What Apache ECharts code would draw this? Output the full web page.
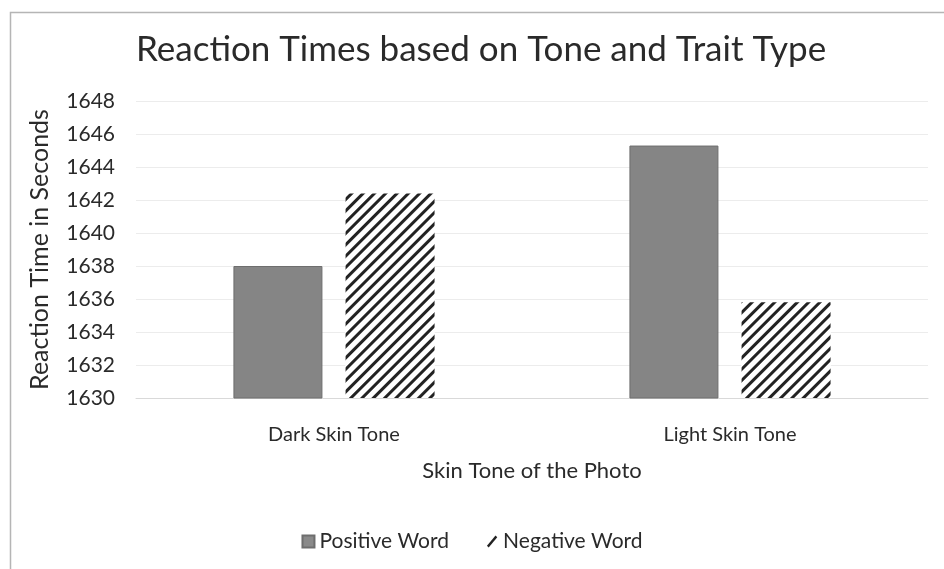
<!DOCTYPE html>
<html><head><meta charset="utf-8">
<script src="https://cdn.jsdelivr.net/npm/echarts@6/dist/echarts.min.js"></script>
<style>html,body{margin:0;padding:0;background:#fff}#c{width:944px;height:569px}</style>
</head><body><div id="c"></div>
<script>
const categories = ['Dark Skin Tone', 'Light Skin Tone'];
const positiveWord = [1638.0, 1645.3];
const negativeWord = [1642.4, 1635.8];
const yTicks = { min: 1630, max: 1648, interval: 2 };

const chart = echarts.init(document.getElementById('c'), null, { renderer: 'canvas' });
const F = 'Lato, "Open Sans", sans-serif';
const TC = '#2a2a2a';
chart.setOption({
  backgroundColor: '#fff',
  animation: false,
  graphic: [{
    type: 'rect', left: 8, top: 10, shape: { width: 950, height: 570 },
    style: { fill: 'none', stroke: '#b5b5b5', lineWidth: 1.5 }, silent: true
  }],
  title: {
    text: 'Reaction Times based on Tone and Trait Type',
    left: 136, top: 32, padding: 0,
    textStyle: { fontFamily: F, fontSize: 35, fontWeight: 'normal', color: TC }
  },
  legend: {
    bottom: 12, left: 'center', itemGap: 38, itemWidth: 12, itemHeight: 12,
    textStyle: { fontFamily: F, fontSize: 21, color: TC },
    data: [
      { name: 'Positive Word', icon: 'rect', itemStyle: { color: '#8a8a8a' } },
      { name: 'Negative Word', icon: 'path://M0,12 L10,0 L12,2 L2,14 Z', itemStyle: { color: '#222', decal: 'none' } }
    ]
  },
  grid: { left: 136, right: 16, top: 101, bottom: 171 },
  xAxis: {
    type: 'category', data: categories,
    name: 'Skin Tone of the Photo', nameLocation: 'middle', nameGap: 62,
    nameTextStyle: { fontFamily: F, fontSize: 22, color: TC },
    axisLine: { lineStyle: { color: '#d9d9d9' } },
    axisTick: { show: false },
    axisLabel: { fontFamily: F, fontSize: 20, color: TC, margin: 27 }
  },
  yAxis: {
    type: 'value', min: yTicks.min, max: yTicks.max, interval: yTicks.interval,
    name: 'Reaction Time in Seconds', nameLocation: 'middle', nameGap: 84,
    nameTextStyle: { fontFamily: F, fontSize: 25, color: TC },
    axisLine: { show: false }, axisTick: { show: false },
    axisLabel: { fontFamily: F, fontSize: 21, color: TC, margin: 21, formatter: v => String(v) },
    splitLine: { lineStyle: { color: '#ececec' } }
  },
  series: [
    {
      name: 'Positive Word', type: 'bar', data: positiveWord,
      barWidth: 89, barGap: '26%',
      itemStyle: { color: '#858585', borderColor: '#6e6e6e', borderWidth: 1 }
    },
    {
      name: 'Negative Word', type: 'bar', data: negativeWord,
      barWidth: 89,
      itemStyle: {
        color: '#fff',
        decal: {
          symbol: 'rect', symbolSize: 1, dashArrayX: [1, 0], dashArrayY: [3, 4.5],
          rotation: -Math.PI / 4, color: '#222', backgroundColor: '#fff'
        }
      }
    }
  ]
});
</script></body></html>
